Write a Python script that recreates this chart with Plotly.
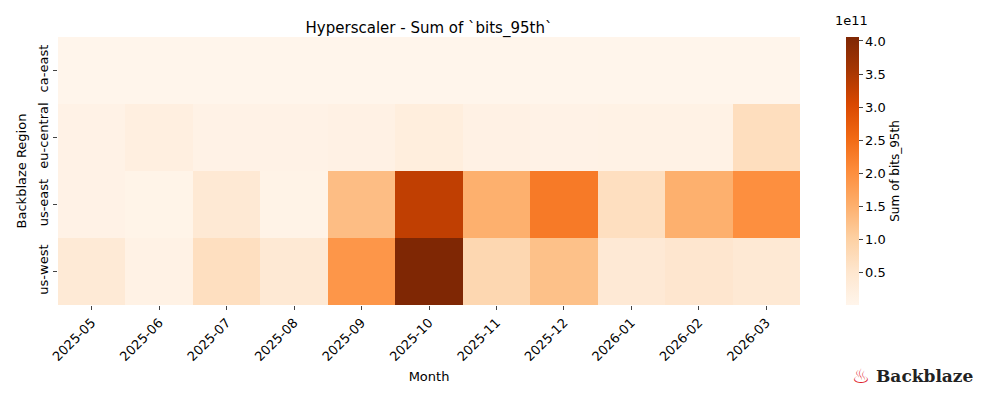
import plotly.graph_objects as go

months = ['2025-05', '2025-06', '2025-07', '2025-08', '2025-09', '2025-10',
          '2025-11', '2025-12', '2026-01', '2026-02', '2026-03']
regions = ['ca-east', 'eu-central', 'us-east', 'us-west']

# values in units of 1e11
ca_east = [0.01, 0.01, 0.01, 0.01, 0.01, 0.01, 0.01, 0.01, 0.01, 0.01, 0.01]
eu_central = [0.10, 0.20, 0.10, 0.10, 0.13, 0.25, 0.13, 0.10, 0.12, 0.12, 0.70]
us_east = [0.10, 0.06, 0.42, 0.08, 1.30, 3.30, 1.50, 2.30, 0.68, 1.50, 2.00]
us_west = [0.38, 0.12, 0.68, 0.42, 1.90, 4.06, 0.85, 1.25, 0.40, 0.50, 0.42]

z = [[v * 1e11 for v in row] for row in [ca_east, eu_central, us_east, us_west]]

oranges = ['#fff5eb', '#fee6ce', '#fdd0a2', '#fdae6b', '#fd8d3c',
           '#f16913', '#d94801', '#a63603', '#7f2704']
scale = [[i / (len(oranges) - 1), c] for i, c in enumerate(oranges)]
cb_ticks = [0.5, 1.0, 1.5, 2.0, 2.5, 3.0, 3.5, 4.0]

fig = go.Figure(go.Heatmap(
    z=z, x=months, y=regions, colorscale=scale,
    colorbar=dict(
        x=(838 - 50) / 742, xanchor='left', xpad=0, ypad=0,
        y=0, yanchor='bottom', len=1, lenmode='fraction',
        thickness=13, outlinewidth=0, ticks='outside', ticklen=4,
        tickvals=[t * 1e11 for t in cb_ticks], ticktext=['%.1f' % t for t in cb_ticks],
        title=dict(text='Sum of bits_95th', side='right', font=dict(size=12)),
        tickfont=dict(size=13),
    ),
))

fig.update_layout(
    width=1000, height=400,
    margin=dict(l=50, r=208, t=29, b=103),
    paper_bgcolor='white', plot_bgcolor='white',
    font=dict(family='DejaVu Sans', size=13, color='black'),
    title=dict(text='Hyperscaler - Sum of `bits_95th`', x=(50 + 371) / 1000, xanchor='center',
               y=0.965, font=dict(size=15)),
    xaxis=dict(type='category', title=dict(text='Month', standoff=8, font=dict(size=13)),
               tickangle=-45, ticks='outside', ticklen=4, showgrid=False, zeroline=False,
               automargin=False, tickfont=dict(size=13)),
    yaxis=dict(title=dict(text='Backblaze Region', standoff=6, font=dict(size=13)),
               autorange='reversed', tickangle=-90, ticks='outside', ticklen=4,
               showgrid=False, zeroline=False, automargin=False, tickfont=dict(size=13)),
)

fig.add_annotation(text='1e11', xref='paper', yref='paper', x=(825 - 50) / 742, y=1.025,
                   xanchor='left', yanchor='bottom', showarrow=False, font=dict(size=13))
fig.add_annotation(text='<b>Backblaze</b>', xref='paper', yref='paper', x=(866 - 50) / 742,
                   y=-0.265, xanchor='left', yanchor='middle', showarrow=False,
                   font=dict(family='DejaVu Serif', size=17, color='#222'))
fig.add_annotation(text='<b>♨</b>', xref='paper', yref='paper', x=(864 - 50) / 742, y=-0.265,
                   xanchor='right', yanchor='middle', showarrow=False,
                   font=dict(size=20, color='#e0202a'))

fig.write_html('out.html')
